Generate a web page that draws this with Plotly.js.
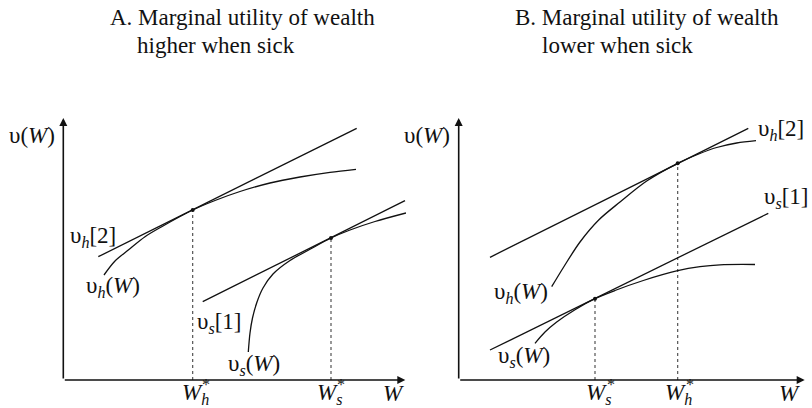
<!DOCTYPE html>
<html>
<head>
<meta charset="utf-8">
<script src="https://cdn.plot.ly/plotly-3.0.1.min.js"></script>
<style>
  html, body { margin: 0; padding: 0; background: #fff; }
  #chart { width: 812px; height: 408px; }
</style>
</head>
<body>
<div id="chart"></div>
<script>
// Panel A: marginal utility of wealth higher when sick
// wealth W along x, utility v(W) along y (origin at the axes corner)
const aHealthyW   = [40.7, 51.7, 65, 81.7, 98.4, 129.4, 151.7, 176.7, 206.7, 236.7, 266.7, 292.7];
const aHealthyV   = [105, 119, 130, 143.3, 153.3, 170, 179.5, 188.5, 197, 203, 207.7, 210.7];
const aSickW      = [185, 186.7, 189.2, 193.7, 199.7, 209.7, 226.7, 246.7, 267.7, 286.7, 311.7, 342.7];
const aSickV      = [28, 47, 62, 78, 92, 106, 119.5, 130.7, 142, 150, 158.5, 167];
const aLineH2W    = [35, 293.4];
const aLineH2V    = [123.3, 251.7];
const aLineS1W    = [139.4, 341.7];
const aLineS1V    = [78.3, 179.3];
const aOptimumW   = [129.4, 267.7];   // W*_h, W*_s
const aOptimumV   = [170, 142];

// Panel B: marginal utility of wealth lower when sick
const bHealthyW   = [93, 105, 121.3, 140, 161.3, 188, 219, 240, 258, 278, 297.3];
const bHealthyV   = [93.3, 113, 138, 160, 178, 199, 216.7, 226, 232.5, 237, 239.3];
const bSickW      = [76.3, 86.3, 98, 116.3, 136.3, 156.3, 184.6, 219, 241.3, 261.3, 296.3];
const bSickV      = [36.7, 48, 58, 70.3, 81.3, 89.5, 99.5, 109.3, 113.3, 115.2, 115.5];
const bLineH2W    = [31.3, 289.6];
const bLineH2V    = [122.7, 251.7];
const bLineS1W    = [31.3, 309.6];
const bLineS1V    = [30, 166.7];
const bOptimumW   = [136.3, 219];     // W*_s, W*_h
const bOptimumV   = [81.3, 216.7];

const axisLenW = [342, 346];
const axisLenV = 262;

const INK = '#111';
const SERIF = 'Liberation Serif, Times New Roman, serif';

function curve(x, y, xa, ya) {
  return { x, y, xaxis: xa, yaxis: ya, type: 'scatter', mode: 'lines',
           line: { color: INK, width: 1.3, shape: 'spline', smoothing: 0.9 },
           hoverinfo: 'skip' };
}
function straight(x, y, xa, ya) {
  return { x, y, xaxis: xa, yaxis: ya, type: 'scatter', mode: 'lines',
           line: { color: INK, width: 1.3 }, hoverinfo: 'skip' };
}
function drops(wx, vy, xa, ya) {
  const x = [], y = [];
  wx.forEach((w, i) => { x.push(w, w, null); y.push(0, vy[i], null); });
  return { x, y, xaxis: xa, yaxis: ya, type: 'scatter', mode: 'lines',
           line: { color: '#444', width: 1.1, dash: 'dot' }, hoverinfo: 'skip' };
}
function dots(wx, vy, xa, ya) {
  return { x: wx, y: vy, xaxis: xa, yaxis: ya, type: 'scatter', mode: 'markers',
           marker: { color: INK, size: 4 }, hoverinfo: 'skip' };
}

const data = [
  drops(aOptimumW, aOptimumV, 'x', 'y'),
  straight(aLineH2W, aLineH2V, 'x', 'y'),
  straight(aLineS1W, aLineS1V, 'x', 'y'),
  curve(aHealthyW, aHealthyV, 'x', 'y'),
  curve(aSickW, aSickV, 'x', 'y'),
  dots(aOptimumW, aOptimumV, 'x', 'y'),

  drops(bOptimumW, bOptimumV, 'x2', 'y2'),
  straight(bLineH2W, bLineH2V, 'x2', 'y2'),
  straight(bLineS1W, bLineS1V, 'x2', 'y2'),
  curve(bHealthyW, bHealthyV, 'x2', 'y2'),
  curve(bSickW, bSickV, 'x2', 'y2'),
  dots(bOptimumW, bOptimumV, 'x2', 'y2')
];

function label(text, x, y, xr, yr, opts) {
  return Object.assign({ text, x, y, xref: xr, yref: yr, showarrow: false,
    xanchor: 'center', yanchor: 'middle',
    font: { family: SERIF, size: 23, color: INK } }, opts || {});
}
function star(x, y, xr, yr) {
  return label('*', x, y, xr, yr, { font: { family: SERIF, size: 16, color: INK } });
}
function axisArrow(x, y, xr, yr) {
  return { x, y, ax: 0, ay: 0, xref: xr, yref: yr, axref: xr, ayref: yr,
           text: '', showarrow: true, arrowhead: 2, arrowsize: 1,
           arrowwidth: 1.6, arrowcolor: INK, standoff: 0, startstandoff: 0 };
}

const annotations = [
  // titles
  label('A. Marginal utility of wealth', 108 / 812, 1 - 18 / 408, 'paper', 'paper', { xanchor: 'left' }),
  label('higher when sick', 135 / 812, 1 - 45 / 408, 'paper', 'paper', { xanchor: 'left' }),
  label('B. Marginal utility of wealth', 513 / 812, 1 - 18 / 408, 'paper', 'paper', { xanchor: 'left' }),
  label('lower when sick', 540 / 812, 1 - 45 / 408, 'paper', 'paper', { xanchor: 'left' }),

  // panel A axes and curve labels
  axisArrow(axisLenW[0], 0, 'x', 'y'),
  axisArrow(0, axisLenV, 'x', 'y'),
  label('υ(<i>W</i>)', -31.6, 245, 'x', 'y'),
  label('<i>W</i>', 329.7, -13, 'x', 'y'),
  label('υ<sub><i>h</i></sub>[2]', 29.2, 143.3, 'x', 'y'),
  label('υ<sub><i>h</i></sub>(<i>W</i>)', 50, 93.3, 'x', 'y'),
  label('υ<sub><i>s</i></sub>[1]', 155.7, 57.3, 'x', 'y'),
  label('υ<sub><i>s</i></sub>(<i>W</i>)', 190.7, 15, 'x', 'y'),
  label('<i>W</i><sub><i>h</i></sub>', 116.7, -14, 'x', 'y', { xanchor: 'left' }),
  star(143, -4, 'x', 'y'),
  label('<i>W</i><sub><i>s</i></sub>', 251.7, -14, 'x', 'y', { xanchor: 'left' }),
  star(278, -4, 'x', 'y'),

  // panel B axes and curve labels
  axisArrow(axisLenW[1], 0, 'x2', 'y2'),
  axisArrow(0, axisLenV, 'x2', 'y2'),
  label('υ(<i>W</i>)', -31.7, 245, 'x2', 'y2'),
  label('<i>W</i>', 330.3, -13, 'x2', 'y2'),
  label('υ<sub><i>h</i></sub>[2]', 322.3, 250, 'x2', 'y2'),
  label('υ<sub><i>s</i></sub>[1]', 327.3, 182, 'x2', 'y2'),
  label('υ<sub><i>h</i></sub>(<i>W</i>)', 62.3, 87, 'x2', 'y2'),
  label('υ<sub><i>s</i></sub>(<i>W</i>)', 64.8, 23, 'x2', 'y2'),
  label('<i>W</i><sub><i>s</i></sub>', 125.3, -14, 'x2', 'y2', { xanchor: 'left' }),
  star(152, -4, 'x2', 'y2'),
  label('<i>W</i><sub><i>h</i></sub>', 204.3, -14, 'x2', 'y2', { xanchor: 'left' }),
  star(231, -4, 'x2', 'y2')
];

const hidden = { visible: false, fixedrange: true };
const layout = {
  width: 812, height: 408,
  margin: { l: 0, r: 0, t: 0, b: 0 },
  paper_bgcolor: '#fff', plot_bgcolor: 'rgba(0,0,0,0)',
  showlegend: false,
  font: { family: SERIF },
  xaxis:  Object.assign({ domain: [0, 0.5], range: [-63.3, 342.7] }, hidden),
  yaxis:  Object.assign({ domain: [0, 1], range: [-28, 380] }, hidden),
  xaxis2: Object.assign({ domain: [0.5, 1], range: [-52.7, 353.3], anchor: 'y2' }, hidden),
  yaxis2: Object.assign({ domain: [0, 1], range: [-28, 380], anchor: 'x2' }, hidden),
  annotations
};

Plotly.newPlot('chart', data, layout, { staticPlot: true, displayModeBar: false });
</script>
</body>
</html>
